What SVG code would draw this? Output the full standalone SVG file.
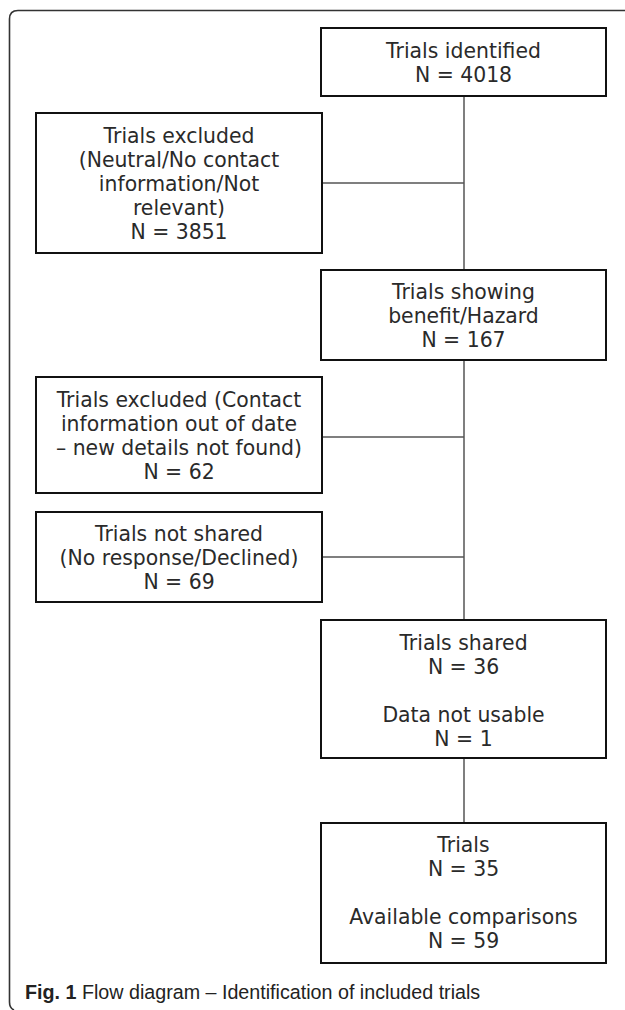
<svg xmlns="http://www.w3.org/2000/svg" width="625" height="1010" viewBox="0 0 625 1010">
<style>
.box{fill:#fff;stroke:#111;stroke-width:2}
.t{font-family:"DejaVu Sans",Verdana,sans-serif;font-size:20.4px;fill:#2a2a2a;text-anchor:middle}
.c{stroke:#555;stroke-width:1.5;fill:none}
.frame{stroke:#333;stroke-width:1.6;fill:none}
.cap{font-family:"Liberation Sans",Arial,sans-serif;font-size:19.7px;fill:#222}
</style>
<rect width="625" height="1010" fill="#fff"/>
<path class="frame" d="M625,10.5 H18 Q9.5,10.5 9.5,19 V1002 Q9.5,1008 14,1010"/>
<g id="connectors">
<line class="c" x1="464" y1="96" x2="464" y2="270"/>
<line class="c" x1="464" y1="360" x2="464" y2="620"/>
<line class="c" x1="464" y1="758" x2="464" y2="823"/>
<line class="c" x1="322" y1="183" x2="464" y2="183"/>
<line class="c" x1="322" y1="437" x2="464" y2="437"/>
<line class="c" x1="322" y1="557" x2="464" y2="557"/>
</g>
<g id="n1">
<rect class="box" x="321" y="28" width="285" height="68"/>
<text class="t" x="463.5" y="58">Trials identified</text>
<text class="t" x="463.5" y="82">N = 4018</text>
</g>
<g id="n2">
<rect class="box" x="36" y="113" width="286" height="140"/>
<text class="t" x="179" y="143">Trials excluded</text>
<text class="t" x="179" y="167">(Neutral/No contact</text>
<text class="t" x="179" y="191">information/Not</text>
<text class="t" x="179" y="215">relevant)</text>
<text class="t" x="179" y="239">N = 3851</text>
</g>
<g id="n3">
<rect class="box" x="321" y="270" width="285" height="90"/>
<text class="t" x="463.5" y="299">Trials showing</text>
<text class="t" x="463.5" y="323">benefit/Hazard</text>
<text class="t" x="463.5" y="347">N = 167</text>
</g>
<g id="n4">
<rect class="box" x="36" y="377" width="286" height="116"/>
<text class="t" x="179" y="407">Trials excluded (Contact</text>
<text class="t" x="179" y="431">information out of date</text>
<text class="t" x="179" y="455">– new details not found)</text>
<text class="t" x="179" y="479">N = 62</text>
</g>
<g id="n5">
<rect class="box" x="36" y="512" width="286" height="90"/>
<text class="t" x="179" y="541">Trials not shared</text>
<text class="t" x="179" y="565">(No response/Declined)</text>
<text class="t" x="179" y="589">N = 69</text>
</g>
<g id="n6">
<rect class="box" x="321" y="620" width="285" height="138"/>
<text class="t" x="463.5" y="650">Trials shared</text>
<text class="t" x="463.5" y="674">N = 36</text>
<text class="t" x="463.5" y="722">Data not usable</text>
<text class="t" x="463.5" y="746">N = 1</text>
</g>
<g id="n7">
<rect class="box" x="321" y="823" width="285" height="140"/>
<text class="t" x="463.5" y="852">Trials</text>
<text class="t" x="463.5" y="876">N = 35</text>
<text class="t" x="463.5" y="924">Available comparisons</text>
<text class="t" x="463.5" y="948">N = 59</text>
</g>
<text class="cap" x="25" y="999"><tspan font-weight="bold">Fig. 1</tspan> Flow diagram – Identification of included trials</text>
</svg>
